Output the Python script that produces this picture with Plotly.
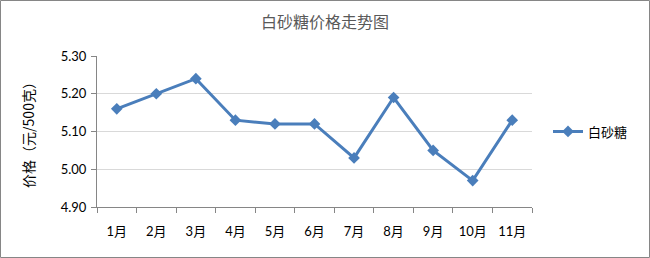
import plotly.graph_objects as go

months = ["1月", "2月", "3月", "4月", "5月", "6月", "7月", "8月", "9月", "10月", "11月"]
prices = [5.16, 5.20, 5.24, 5.13, 5.12, 5.12, 5.03, 5.19, 5.05, 4.97, 5.13]
y_ticks = [4.90, 5.00, 5.10, 5.20, 5.30]
y_tick_text = ["4.90", "5.00", "5.10", "5.20", "5.30"]

L, R, T, B = 97, 118, 56, 51
W, H = 650, 258
pw, ph = W - L - R, H - T - B

fig = go.Figure()
fig.add_trace(go.Scatter(
    x=months, y=prices, mode="lines+markers", name="白砂糖",
    line=dict(color="#4A7EBB", width=3),
    marker=dict(symbol="diamond", size=9, color="#4A7EBB"),
))

font_fam = "Lato, Noto Sans CJK SC, sans-serif"
fig.update_layout(
    width=W, height=H,
    margin=dict(l=L, r=R, t=T, b=B),
    paper_bgcolor="white", plot_bgcolor="white",
    font=dict(family=font_fam, size=13, color="#000000"),
    title=dict(text="白砂糖价格走势图", x=0.5, xanchor="center", y=1 - 22 / H, yanchor="middle",
               font=dict(family="Noto Sans CJK SC", size=16, color="#595959")),
    showlegend=True,
    legend=dict(x=1 + 16 / pw, xanchor="left", y=0.5, yanchor="middle",
                font=dict(family="Noto Sans CJK SC", size=13), bgcolor="rgba(0,0,0,0)"),
    xaxis=dict(
        type="category", range=[-0.5, 10.5], showgrid=False,
        showline=True, linecolor="#868686", linewidth=1,
        ticks="outside", tickson="boundaries", ticklen=5, tickcolor="#868686",
        tickfont=dict(family=font_fam, size=13), ticklabelstandoff=12, fixedrange=True,
    ),
    yaxis=dict(
        range=[4.90, 5.30], tickvals=y_ticks, ticktext=y_tick_text,
        showgrid=True, gridcolor="#D9D9D9", gridwidth=1,
        showline=True, linecolor="#868686", linewidth=1,
        ticks="outside", ticklen=5, tickcolor="#868686",
        tickfont=dict(family=font_fam, size=13), ticklabelstandoff=2,
        title=dict(text="价格（元/500克）", font=dict(family="Noto Sans CJK SC", size=14), standoff=22),
        zeroline=False,
    ),
    shapes=[dict(
        type="rect", xref="paper", yref="paper",
        x0=(0.5 - L) / pw, x1=(W - 0.5 - L) / pw,
        y0=(H - B - (H - 0.5)) / ph, y1=(H - B - 0.5) / ph,
        line=dict(color="#868686", width=1), layer="above",
    )],
)

fig.write_html("out.html")
